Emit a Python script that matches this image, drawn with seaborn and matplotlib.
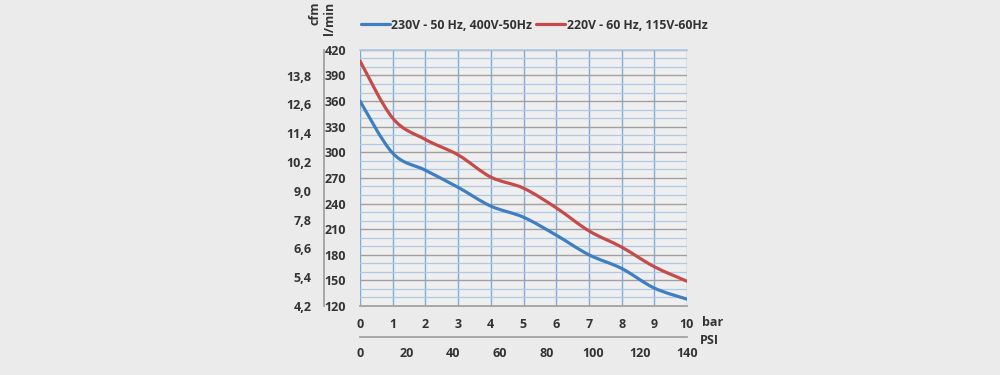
import numpy as np
import matplotlib
matplotlib.use("Agg")
import matplotlib.pyplot as plt
import seaborn as sns
from matplotlib.path import Path
from matplotlib.patches import PathPatch
from matplotlib.lines import Line2D

# data
bar = [0, 1, 2, 3, 4, 5, 6, 7, 8, 9, 10]
flow_50hz = [360, 299, 279, 259, 237, 224, 203, 180, 164, 141, 128]
flow_60hz = [407, 340, 315, 297, 271, 258, 235, 208, 189, 166, 149]
series_labels = ["230V - 50 Hz, 400V-50Hz", "220V - 60 Hz, 115V-60Hz"]
series_colors = ["#3f7fc1", "#c54b4b"]

lmin_ticks = [120, 150, 180, 210, 240, 270, 300, 330, 360, 390, 420]
cfm_ticks = [4.2, 5.4, 6.6, 7.8, 9.0, 10.2, 11.4, 12.6, 13.8]
cfm_labels = ["4,2", "5,4", "6,6", "7,8", "9,0", "10,2", "11,4", "12,6", "13,8"]
cfm_range = (4.2, 14.87)
psi_ticks = [0, 20, 40, 60, 80, 100, 120, 140]

BG = "#ebebeb"
TXT = "#333333"
GRAY = "#a0a0a0"
FS = 9

sns.set_theme(style="white")
plt.rcParams["font.family"] = ["Open Sans", "DejaVu Sans"]
plt.rcParams["font.weight"] = "bold"


def smooth_path(xs, ys):
    """Excel-like smoothed line: cubic bezier through the points."""
    p = np.column_stack([xs, ys]).astype(float)
    pts = np.vstack([p[0], p, p[-1]])
    verts = [tuple(p[0])]
    codes = [Path.MOVETO]
    for i in range(1, len(pts) - 2):
        c1 = pts[i] + (pts[i + 1] - pts[i - 1]) / 6
        c2 = pts[i + 1] - (pts[i + 2] - pts[i]) / 6
        verts += [tuple(c1), tuple(c2), tuple(pts[i + 1])]
        codes += [Path.CURVE4] * 3
    return Path(verts, codes)


fig = plt.figure(figsize=(10, 3.75), dpi=100, facecolor=BG)
ax = fig.add_axes([0.36, 0.184, 0.327, 0.683], facecolor="#efefef")

ax.set_xlim(0, 10)
ax.set_ylim(120, 420)

# grid: blue verticals, gray major horizontals, light blue minor horizontals
ax.set_xticks(bar)
ax.set_xticklabels([str(v) for v in bar], fontweight="bold")
ax.set_yticks(lmin_ticks)
ax.set_yticklabels([str(v) for v in lmin_ticks], fontweight="bold")
ax.set_yticks([v for v in range(120, 421, 10) if v % 30], minor=True)
ax.grid(axis="x", which="major", color="#7fa9d6", lw=1.0)
ax.grid(axis="y", which="major", color=GRAY, lw=1.0)
ax.grid(axis="y", which="minor", color="#b0c9e6", lw=0.9)
ax.set_axisbelow(True)
for s in ["left", "right"]:
    ax.spines[s].set_visible(False)
ax.spines["top"].set_color("#b0c9e6")
ax.spines["bottom"].set_color(GRAY)

ax.tick_params(axis="x", length=0, pad=9, labelsize=FS, labelcolor=TXT)
ax.tick_params(axis="y", which="both", length=0, pad=10, labelsize=FS, labelcolor=TXT)

for ys, col in zip([flow_50hz, flow_60hz], series_colors):
    ax.add_patch(PathPatch(smooth_path(bar, ys), fill=False, edgecolor=col,
                           lw=2.3, capstyle="round", zorder=3))

# cfm axis with its own spine left of the l/min labels
axc = fig.add_axes([0.324, 0.184, 0.0001, 0.683])
axc.patch.set_visible(False)
axc.set_ylim(*cfm_range)
for s in ["right", "top", "bottom"]:
    axc.spines[s].set_visible(False)
axc.spines["left"].set_color(GRAY)
axc.set_xticks([])
axc.set_yticks(cfm_ticks)
axc.set_yticklabels(cfm_labels, fontweight="bold")
axc.tick_params(axis="y", direction="out", length=4, width=1, color=GRAY,
                pad=5, labelsize=FS, labelcolor=TXT)

# PSI axis below
axp = fig.add_axes([0.36, 0.101, 0.327, 0.0001])
axp.patch.set_visible(False)
axp.set_xlim(0, 140)
for s in ["left", "right", "top"]:
    axp.spines[s].set_visible(False)
axp.spines["bottom"].set_color(GRAY)
axp.set_yticks([])
axp.set_xticks(psi_ticks)
axp.set_xticklabels([str(v) for v in psi_ticks], fontweight="bold")
axp.tick_params(axis="x", direction="in", length=4, width=1, color=GRAY,
                pad=7, labelsize=FS, labelcolor=TXT)

fig.text(0.702, 0.139, "bar", fontsize=FS, color=TXT, va="center", ha="left", fontweight="bold")
fig.text(0.700, 0.093, "PSI", fontsize=FS, color=TXT, va="center", ha="left", fontweight="bold")
fig.text(0.315, 0.965, "cfm", fontsize=FS, color=TXT, rotation=90, va="center",
         ha="center", fontweight="bold")
fig.text(0.329, 0.952, "l/min", fontsize=FS, color=TXT, rotation=90, va="center",
         ha="center", fontweight="bold")

handles = [Line2D([], [], color=c, lw=2.3) for c in series_colors]
fig.legend(handles, series_labels, loc="center", bbox_to_anchor=(0.534, 0.933),
           ncol=2, frameon=False, handlelength=2.4, handletextpad=0.1,
           columnspacing=0.3, prop={"size": 8.8, "weight": "bold"}, labelcolor=TXT)

fig.savefig("out.png", dpi=100, facecolor=BG)
